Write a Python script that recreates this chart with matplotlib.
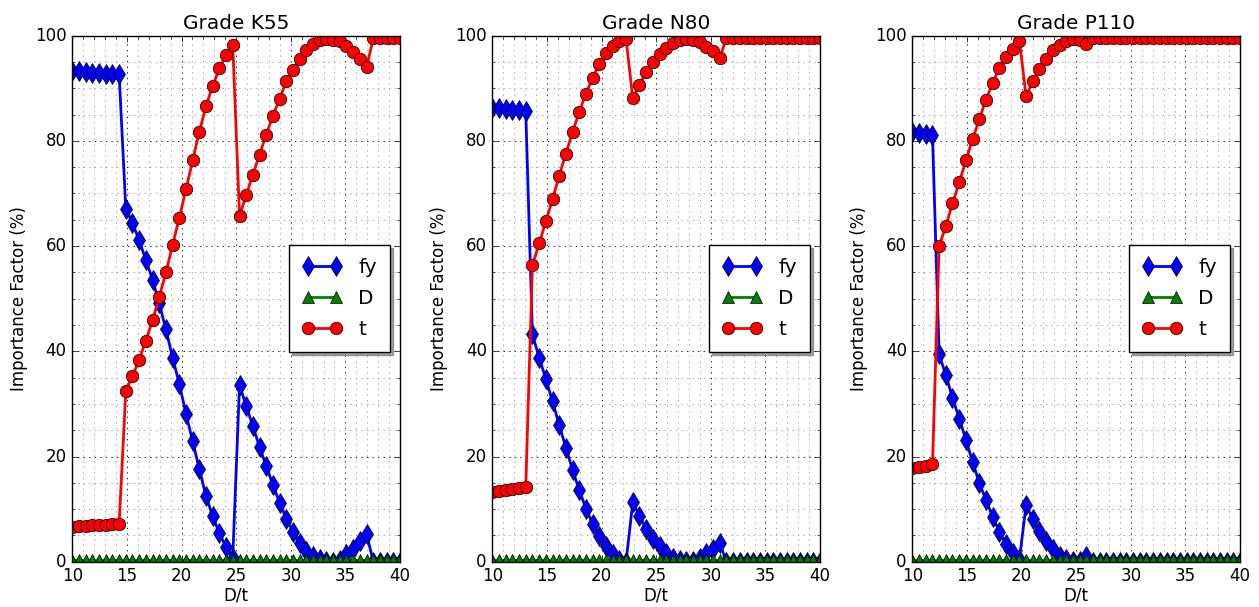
import numpy as np
import matplotlib
matplotlib.use('Agg')
import matplotlib.pyplot as plt
from matplotlib.ticker import MultipleLocator

plt.style.use('classic')

# D/t values (50 points between 10 and 40)
dt = [10.00, 10.61, 11.22, 11.84, 12.45, 13.06, 13.67, 14.29, 14.90, 15.51,
      16.12, 16.73, 17.35, 17.96, 18.57, 19.18, 19.80, 20.41, 21.02, 21.63,
      22.24, 22.86, 23.47, 24.08, 24.69, 25.31, 25.92, 26.53, 27.14, 27.76,
      28.37, 28.98, 29.59, 30.20, 30.82, 31.43, 32.04, 32.65, 33.27, 33.88,
      34.49, 35.10, 35.71, 36.33, 36.94, 37.55, 38.16, 38.78, 39.39, 40.00]

grades = ['K55', 'N80', 'P110']

# importance factors (%) for yield strength
fy_k55 = [93.3, 93.2, 93.1, 93.0, 92.9, 92.8, 92.8, 92.7,
          67.1, 64.4, 61.1, 57.4, 53.6, 49.1, 44.2, 38.8, 33.8, 28.1, 22.9,
          17.6, 12.5, 8.6, 5.4, 2.8, 0.8,
          33.6, 29.6, 25.8, 21.8, 18.2, 14.6, 11.2, 8.2, 5.7, 3.6, 2.1, 1.1,
          0.5, 0.2, 0.0, 0.4, 1.5, 2.5, 4.0, 5.3,
          0.0, 0.0, 0.0, 0.0, 0.0]
fy_n80 = [86.3, 86.2, 86.0, 85.9, 85.8, 85.6,
          43.2, 38.8, 34.7, 30.5, 26.0, 21.7, 17.4, 13.6, 10.1, 7.2, 4.9, 2.9,
          1.5, 0.4, 0.0,
          11.3, 8.7, 6.2, 4.4, 2.9, 1.6, 0.7, 0.3, 0.1, 0.2, 0.7, 1.6, 2.4, 3.5,
          0.0, 0.0, 0.0, 0.0, 0.0, 0.0, 0.0, 0.0, 0.0, 0.0, 0.0, 0.0, 0.0, 0.0, 0.0]
fy_p110 = [81.6, 81.5, 81.3, 81.1,
           39.4, 35.5, 31.2, 27.2, 23.2, 19.0, 15.0, 11.8, 8.5, 5.7, 3.3, 1.6, 0.5,
           10.8, 8.1, 5.8, 4.0, 2.4, 1.1, 0.5, 0.2, 0.2, 1.0, 0.0,
           0.0, 0.0, 0.0, 0.0, 0.0, 0.0, 0.0, 0.0, 0.0, 0.0, 0.0, 0.0, 0.0,
           0.0, 0.0, 0.0, 0.0, 0.0, 0.0, 0.0, 0.0, 0.0]

# importance factors (%) for diameter (negligible everywhere)
d_k55 = [0.4] * 50
d_n80 = [0.4] * 50
d_p110 = [0.4] * 50

# importance factors (%) for wall thickness
t_k55 = [6.6, 6.7, 6.8, 6.9, 7.0, 7.0, 7.1, 7.2,
         32.5, 35.3, 38.4, 42.0, 45.9, 50.3, 55.0, 60.2, 65.4, 70.8, 76.3,
         81.7, 86.6, 90.5, 93.8, 96.4, 98.3,
         65.7, 69.7, 73.6, 77.4, 81.2, 84.8, 88.0, 91.3, 93.5, 95.6, 97.2, 98.5,
         99.1, 99.3, 99.2, 99.0, 98.1, 96.9, 95.6, 94.0,
         99.5, 99.5, 99.5, 99.5, 99.5]
t_n80 = [13.3, 13.4, 13.6, 13.9, 14.1, 14.2,
         56.4, 60.5, 64.7, 68.9, 73.4, 77.6, 81.7, 85.5, 89.0, 92.0, 94.7, 96.7,
         98.1, 99.0, 99.4,
         88.1, 90.7, 93.1, 95.0, 96.6, 97.7, 98.6, 99.1, 99.3, 99.2, 98.8, 97.9,
         97.0, 95.8,
         99.5, 99.5, 99.5, 99.5, 99.5, 99.5, 99.5, 99.5, 99.5, 99.5, 99.5, 99.5,
         99.5, 99.5, 99.5]
t_p110 = [17.9, 18.0, 18.2, 18.6,
          60.0, 63.8, 68.1, 72.1, 76.3, 80.3, 84.1, 87.8, 91.0, 93.9, 96.0, 97.5, 99.0,
          88.5, 91.3, 93.7, 95.6, 97.2, 98.3, 99.0, 99.3, 99.1, 98.5,
          99.5, 99.5, 99.5, 99.5, 99.5, 99.5, 99.5, 99.5, 99.5, 99.5, 99.5, 99.5,
          99.5, 99.5, 99.5, 99.5, 99.5, 99.5, 99.5, 99.5, 99.5, 99.5, 99.5]

fy_all = [fy_k55, fy_n80, fy_p110]
d_all = [d_k55, d_n80, d_p110]
t_all = [t_k55, t_n80, t_p110]

fig, axes = plt.subplots(1, 3, figsize=(12.59, 6.07), dpi=100, facecolor='white')
fig.subplots_adjust(left=0.0574, right=0.985, bottom=0.0746, top=0.9412, wspace=0.2817)

for ax, g, fy, d, t in zip(axes, grades, fy_all, d_all, t_all):
    ax.plot(dt, fy, 'b-', marker='d', markersize=10, lw=2, mec='k', mew=0.5, label='fy')
    ax.plot(dt, d, 'g-', marker='^', markersize=9, lw=2, mec='k', mew=0.5, label='D')
    ax.plot(dt, t, 'r-', marker='o', markersize=9, lw=2, mec='k', mew=0.5, label='t')
    ax.set_xlim(10, 40)
    ax.set_ylim(0, 100)
    ax.xaxis.set_major_locator(MultipleLocator(5))
    ax.xaxis.set_minor_locator(MultipleLocator(1))
    ax.yaxis.set_major_locator(MultipleLocator(20))
    ax.yaxis.set_minor_locator(MultipleLocator(5))
    ax.grid(which='major', linestyle=':', color='k', lw=0.6)
    ax.grid(which='minor', linestyle=':', color='0.6', lw=0.6)
    ax.set_axisbelow(True)
    ax.set_title('Grade ' + g)
    ax.set_xlabel('D/t', labelpad=1)
    ax.set_ylabel('Importance Factor (%)')
    ax.legend(loc='center right', numpoints=2, shadow=True, fancybox=False,
              handlelength=2.0, labelspacing=0.6, borderpad=0.65)

plt.savefig('out.png', dpi=100, facecolor='white')
